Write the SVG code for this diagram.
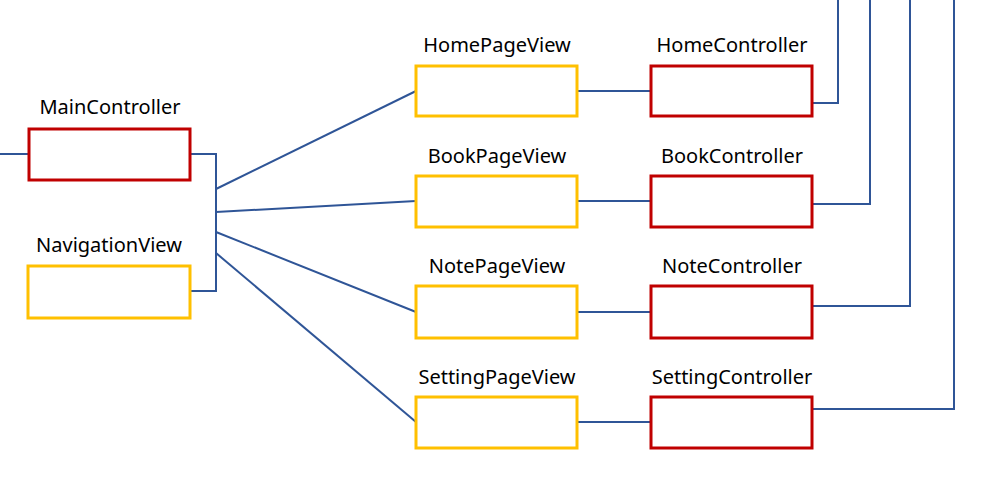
<svg xmlns="http://www.w3.org/2000/svg" width="991" height="483" viewBox="0 0 991 483">
<style>
.ctrl{fill:#fff;stroke:#C00000;stroke-width:3}
.view{fill:#fff;stroke:#FFC000;stroke-width:3}
.lbl{font-family:"Noto Sans","Open Sans",sans-serif;font-size:20px;fill:#000;text-anchor:middle}
.wire{fill:none;stroke:#2F5597;stroke-width:2}
</style>
<rect width="991" height="483" fill="#fff"/>
<g id="connectors">
<path class="wire" d="M0,154H29"/>
<path class="wire" d="M190,154H216V291H190"/>
<path class="wire" d="M216,189L416,91"/>
<path class="wire" d="M216,212L416,201"/>
<path class="wire" d="M216,232L416,312"/>
<path class="wire" d="M216,253L416,422"/>
<path class="wire" d="M577,91H651"/>
<path class="wire" d="M577,201H651"/>
<path class="wire" d="M577,312H651"/>
<path class="wire" d="M577,422H651"/>
<path class="wire" d="M812,103H838V0"/>
<path class="wire" d="M812,204H870V0"/>
<path class="wire" d="M812,306H910V0"/>
<path class="wire" d="M812,409H954V0"/>
</g>
<g id="MainController"><rect class="ctrl" x="29" y="129" width="161" height="51"/><text class="lbl" x="110" y="114">MainController</text></g>
<g id="NavigationView"><rect class="view" x="28" y="266" width="162" height="52"/><text class="lbl" x="109" y="252">NavigationView</text></g>
<g id="HomePageView"><rect class="view" x="416" y="66" width="161" height="50"/><text class="lbl" x="497" y="52">HomePageView</text></g>
<g id="BookPageView"><rect class="view" x="416" y="176" width="161" height="51"/><text class="lbl" x="497" y="163">BookPageView</text></g>
<g id="NotePageView"><rect class="view" x="416" y="286" width="161" height="52"/><text class="lbl" x="497" y="273">NotePageView</text></g>
<g id="SettingPageView"><rect class="view" x="416" y="397" width="161" height="51"/><text class="lbl" x="497" y="384">SettingPageView</text></g>
<g id="HomeController"><rect class="ctrl" x="651" y="66" width="161" height="50"/><text class="lbl" x="732" y="52">HomeController</text></g>
<g id="BookController"><rect class="ctrl" x="651" y="176" width="161" height="51"/><text class="lbl" x="732" y="163">BookController</text></g>
<g id="NoteController"><rect class="ctrl" x="651" y="286" width="161" height="52"/><text class="lbl" x="732" y="273">NoteController</text></g>
<g id="SettingController"><rect class="ctrl" x="651" y="397" width="161" height="51"/><text class="lbl" x="732" y="384">SettingController</text></g>
</svg>
